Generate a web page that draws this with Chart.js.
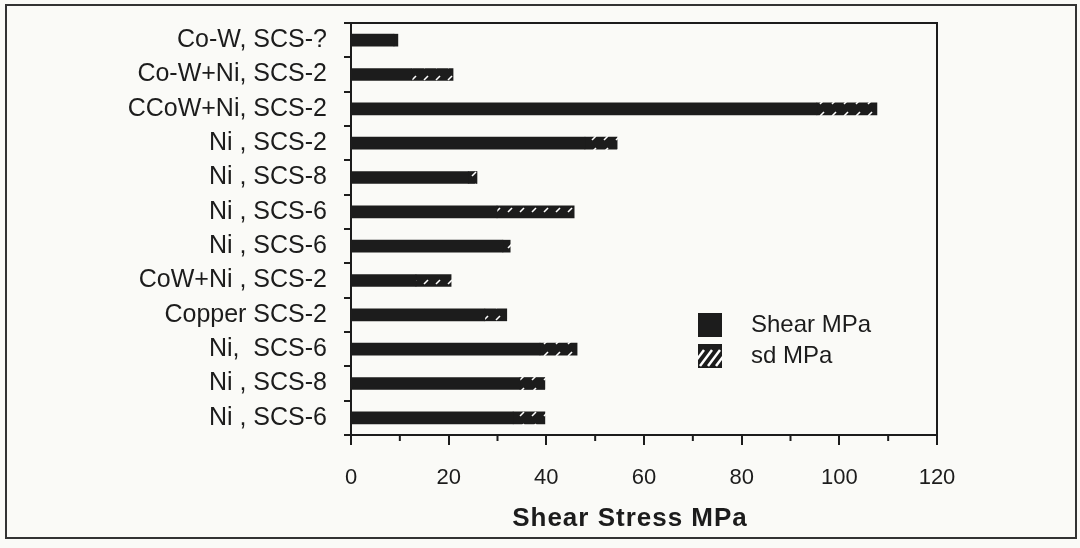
<!DOCTYPE html>
<html>
<head>
<meta charset="utf-8">
<script src="https://cdn.jsdelivr.net/npm/chart.js@4.4.1/dist/chart.umd.min.js"></script>
<style>
  html, body { margin: 0; padding: 0; background: #fafaf7; }
  #wrap { width: 1080px; height: 548px; position: relative; }
</style>
</head>
<body>
<div id="wrap"><canvas id="chart" width="1080" height="548"></canvas></div>
<script>
// values
const categories = ['Co-W, SCS-?', 'Co-W+Ni, SCS-2', 'CCoW+Ni, SCS-2', 'Ni , SCS-2', 'Ni , SCS-8', 'Ni , SCS-6',
  'Ni , SCS-6', 'CoW+Ni , SCS-2', 'Copper SCS-2', 'Ni,  SCS-6', 'Ni , SCS-8', 'Ni , SCS-6'];
const shearMPa = [8.8, 12.5, 95.4, 47.9, 24.0, 29.9, 31.1, 13.3, 27.4, 38.7, 34.6, 33.2];
const sdMPa = [0.8, 8.4, 12.3, 6.6, 1.8, 15.8, 1.5, 7.2, 4.5, 7.6, 5.1, 6.5];
const xTicks = [0, 20, 40, 60, 80, 100, 120];
const xMinorTicks = [10, 30, 50, 70, 90, 110];

const ink = '#1c1c1c';
const font = '"Liberation Sans", Arial, sans-serif';
const ctx = document.getElementById('chart').getContext('2d');

// black with small white diagonal dashes
function hatch() {
  const c = document.createElement('canvas');
  c.width = 12; c.height = 12;
  const g = c.getContext('2d');
  g.fillStyle = ink;
  g.fillRect(0, 0, 12, 12);
  g.strokeStyle = '#ffffff';
  g.lineWidth = 1.6;
  g.beginPath();
  g.moveTo(4, 8); g.lineTo(8, 4);
  g.stroke();
  return g.createPattern(c, 'repeat');
}

const framePlugin = {
  id: 'frame',
  afterDraw(chart) {
    const { ctx, chartArea: a } = chart;
    const xs = chart.scales.x;
    ctx.save();
    ctx.strokeStyle = ink;
    ctx.lineWidth = 2;
    ctx.strokeRect(a.left, a.top, a.right - a.left, a.bottom - a.top);

    // short minor ticks on the x axis
    xMinorTicks.forEach(v => {
      const x = xs.getPixelForValue(v);
      ctx.beginPath();
      ctx.moveTo(x, a.bottom);
      ctx.lineTo(x, a.bottom + 6);
      ctx.stroke();
    });

    // outer picture border
    ctx.strokeStyle = '#333';
    ctx.strokeRect(6, 5, 1070, 533);

    // axis title
    ctx.fillStyle = ink;
    ctx.font = 'bold 26px ' + font;
    ctx.letterSpacing = '1px';
    ctx.textAlign = 'center';
    ctx.textBaseline = 'middle';
    ctx.fillText('Shear Stress MPa', (a.left + a.right) / 2 - 14, a.bottom + 84);
    ctx.letterSpacing = '0px';

    // legend inside the plot
    const lx = a.left + 347, ly = a.top + 290;
    const items = [['Shear MPa', false], ['sd MPa', true]];
    items.forEach(([txt, hatched], i) => {
      const y = ly + i * 31;
      ctx.fillStyle = ink;
      ctx.fillRect(lx, y, 24, 24);
      if (hatched) {
        ctx.save();
        ctx.beginPath();
        ctx.rect(lx, y, 24, 24);
        ctx.clip();
        ctx.strokeStyle = '#fff';
        ctx.lineWidth = 2.5;
        for (let k = -1; k < 3; k++) {
          ctx.beginPath();
          ctx.moveTo(lx + 2 + k * 8, y + 22);
          ctx.lineTo(lx + 2 + k * 8 + 12, y + 6);
          ctx.stroke();
        }
        ctx.restore();
      }
      ctx.fillStyle = ink;
      ctx.font = '24px ' + font;
      ctx.textBaseline = 'middle';
      ctx.textAlign = 'left';
      ctx.fillText(txt, lx + 53, y + 12);
    });
    ctx.restore();
  }
};

new Chart(ctx, {
  type: 'bar',
  data: {
    labels: categories,
    datasets: [
      {
        label: 'Shear MPa',
        data: shearMPa,
        backgroundColor: ink,
        barThickness: 12,
      },
      {
        label: 'sd MPa',
        data: sdMPa,
        backgroundColor: hatch(),
        barThickness: 12,
      },
    ],
  },
  options: {
    indexAxis: 'y',
    responsive: false,
    animation: false,
    layout: { padding: { left: 6, top: 23, right: 143, bottom: 0 } },
    plugins: {
      legend: { display: false },
      tooltip: { enabled: false },
    },
    scales: {
      y: {
        stacked: true,
        afterFit(scale) {
          scale.width = 345;
          scale.paddingTop = 0;
          scale.paddingBottom = 0;
        },
        border: { display: true, color: ink, width: 2 },
        grid: { display: true, offset: true, drawOnChartArea: false, tickLength: 7, color: ink, lineWidth: 2 },
        ticks: {
          color: ink,
          padding: 17,
          font: { family: font, size: 25 },
        },
      },
      x: {
        stacked: true,
        min: 0,
        max: 120,
        afterFit(scale) { scale.height = 113; },
        border: { display: true, color: ink, width: 2 },
        grid: {
          display: true,
          drawOnChartArea: false,
          tickLength: 10,
          lineWidth: 2,
          color: (c) => (c.tick && xTicks.includes(c.tick.value) ? ink : 'rgba(0,0,0,0)'),
        },
        ticks: {
          stepSize: 10,
          color: ink,
          padding: 20,
          font: { family: font, size: 22 },
          callback: (v) => (xTicks.includes(v) ? v : ''),
        },
      },
    },
  },
  plugins: [framePlugin],
});
</script>
</body>
</html>
